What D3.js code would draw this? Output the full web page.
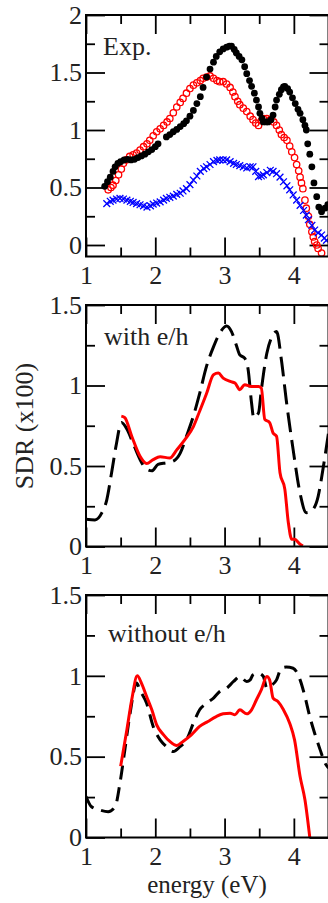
<!DOCTYPE html>
<html>
<head>
<meta charset="utf-8">
<script src="https://cdn.jsdelivr.net/npm/d3@7"></script>
<style>
  html, body { margin: 0; padding: 0; background: #fff; }
  svg { display: block; }
</style>
</head>
<body>
<div class="sdr-chart"></div>
<script>
// x axis ticks (shared by all three panels)
const xMajor = [1, 2, 3, 4];
const xMinor = [1.5, 2.5, 3.5, 4.5];
const yMajorTop = [0, 0.5, 1, 1.5, 2];
const yMinorTop = [0.25, 0.75, 1.25, 1.75];
const yMajor = [0, 0.5, 1, 1.5];
const yMinor = [0.25, 0.75, 1.25];

const panelLabels = ['Exp.', 'with e/h', 'without e/h'];

// Exp. : filled black circles
const expBlackE = [1.27, 1.31, 1.35, 1.39, 1.42, 1.46, 1.50, 1.55, 1.60, 1.65, 1.70, 1.75, 1.80, 1.85, 1.90, 1.95, 2.00, 2.04,
  2.16, 2.21, 2.26, 2.31, 2.36, 2.41, 2.45, 2.50, 2.55, 2.60, 2.65, 2.69, 2.74, 2.79, 2.84, 2.88, 2.93, 2.98, 3.03, 3.07,
  3.10, 3.14, 3.17, 3.21, 3.25, 3.29, 3.32, 3.36, 3.39, 3.43, 3.46, 3.49, 3.51, 3.54, 3.56, 3.60, 3.63, 3.67, 3.70, 3.73,
  3.75, 3.79, 3.82, 3.85, 3.87, 3.91, 3.94, 3.98, 4.02, 4.06, 4.09, 4.13, 4.16, 4.18, 4.20, 4.23, 4.26, 4.29, 4.33, 4.36,
  4.40, 4.45, 4.49];
const expBlackV = [0.51, 0.55, 0.59, 0.64, 0.68, 0.71, 0.725, 0.74, 0.745, 0.74, 0.745, 0.76, 0.775, 0.79, 0.81, 0.83, 0.855, 0.88,
  0.94, 0.96, 0.985, 1.005, 1.03, 1.055, 1.08, 1.12, 1.17, 1.23, 1.29, 1.37, 1.46, 1.53, 1.59, 1.64, 1.68, 1.705, 1.72, 1.73,
  1.73, 1.70, 1.67, 1.64, 1.61, 1.55, 1.49, 1.43, 1.38, 1.32, 1.26, 1.20, 1.145, 1.10, 1.07, 1.07, 1.07, 1.09, 1.13, 1.20,
  1.26, 1.31, 1.35, 1.375, 1.38, 1.36, 1.33, 1.28, 1.23, 1.18, 1.145, 1.09, 1.04, 1.00, 0.88, 0.79, 0.68, 0.54, 0.42, 0.33,
  0.29, 0.32, 0.35];

// Exp. : open red circles
const expRedE = [1.32, 1.36, 1.39, 1.43, 1.47, 1.51, 1.54, 1.58, 1.63, 1.68, 1.73, 1.78, 1.83, 1.88, 1.92, 1.97, 2.02, 2.07,
  2.12, 2.17, 2.21, 2.26, 2.31, 2.36, 2.40, 2.45, 2.50, 2.55, 2.60, 2.65, 2.69, 2.74, 2.79, 2.84, 2.89, 2.93, 2.98, 3.03,
  3.08, 3.12, 3.15, 3.19, 3.22, 3.27, 3.32, 3.37, 3.41, 3.45, 3.49, 3.53, 3.56, 3.61, 3.66, 3.71, 3.75, 3.79, 3.82, 3.86,
  3.90, 3.94, 3.97, 4.01, 4.04, 4.07, 4.09, 4.11, 4.13, 4.16, 4.18, 4.21, 4.23, 4.26, 4.28, 4.30, 4.33, 4.35, 4.40];
const expRedV = [0.48, 0.50, 0.52, 0.56, 0.61, 0.66, 0.71, 0.74, 0.77, 0.785, 0.80, 0.825, 0.855, 0.88, 0.91, 0.95, 0.985, 1.01,
  1.04, 1.07, 1.10, 1.15, 1.20, 1.24, 1.275, 1.32, 1.36, 1.39, 1.41, 1.43, 1.45, 1.46, 1.47, 1.45, 1.43, 1.42, 1.42, 1.40,
  1.37, 1.33, 1.29, 1.25, 1.22, 1.19, 1.16, 1.12, 1.09, 1.06, 1.04, 1.08, 1.10, 1.10, 1.09, 1.07, 1.04, 1.00, 0.96, 0.935,
  0.91, 0.86, 0.81, 0.76, 0.70, 0.645, 0.59, 0.54, 0.49, 0.39, 0.32, 0.25, 0.18, 0.115, 0.07, 0.03, 0.00, -0.03, -0.07];

// Exp. : blue crosses
const expBlueE = [1.30, 1.35, 1.39, 1.44, 1.49, 1.54, 1.59, 1.64, 1.68, 1.73, 1.78, 1.83, 1.88, 1.93, 1.97, 2.02, 2.07, 2.12,
  2.16, 2.21, 2.26, 2.31, 2.36, 2.40, 2.45, 2.50, 2.55, 2.60, 2.65, 2.70, 2.74, 2.79, 2.84, 2.89, 2.93, 2.98, 3.03, 3.08,
  3.13, 3.17, 3.22, 3.27, 3.32, 3.37, 3.41, 3.45, 3.49, 3.53, 3.56, 3.61, 3.66, 3.70, 3.75, 3.80, 3.85, 3.90, 3.94, 3.99,
  4.04, 4.09, 4.14, 4.18, 4.21, 4.26, 4.30, 4.35, 4.40, 4.44, 4.47];
const expBlueV = [0.36, 0.38, 0.39, 0.40, 0.405, 0.40, 0.39, 0.38, 0.37, 0.36, 0.35, 0.34, 0.33, 0.34, 0.355, 0.365, 0.375, 0.39,
  0.405, 0.415, 0.425, 0.44, 0.45, 0.47, 0.49, 0.525, 0.565, 0.60, 0.64, 0.665, 0.68, 0.70, 0.725, 0.735, 0.74, 0.74, 0.74, 0.725,
  0.71, 0.70, 0.69, 0.68, 0.67, 0.68, 0.68, 0.64, 0.595, 0.60, 0.61, 0.63, 0.65, 0.64, 0.62, 0.59, 0.55, 0.515, 0.48, 0.435,
  0.39, 0.345, 0.30, 0.26, 0.22, 0.17, 0.13, 0.105, 0.087, 0.06, 0.04];

// with e/h : dashed black and solid red
const withBlackE = [1.00, 1.13, 1.23, 1.30, 1.37, 1.44, 1.51, 1.59, 1.68, 1.78, 1.875, 1.95, 2.04, 2.16, 2.26, 2.36, 2.45, 2.55,
  2.64, 2.74, 2.84, 2.93, 3.03, 3.10, 3.17, 3.22, 3.29, 3.34, 3.39, 3.42, 3.49, 3.53, 3.61, 3.68, 3.75, 3.82, 3.89, 3.99,
  4.09, 4.18, 4.25, 4.35, 4.42, 4.50];
const withBlackV = [0.17, 0.165, 0.21, 0.29, 0.46, 0.64, 0.77, 0.73, 0.64, 0.54, 0.48, 0.47, 0.51, 0.52, 0.53, 0.58, 0.685, 0.81,
  0.95, 1.12, 1.24, 1.325, 1.37, 1.335, 1.25, 1.19, 1.17, 1.10, 0.89, 0.80, 0.83, 0.97, 1.20, 1.30, 1.335, 1.16, 0.91, 0.60,
  0.33, 0.21, 0.22, 0.31, 0.48, 0.705];
const withRedE = [1.51, 1.56, 1.66, 1.78, 1.875, 1.97, 2.07, 2.21, 2.31, 2.43, 2.55, 2.64, 2.74, 2.84, 2.91, 2.98, 3.08, 3.15,
  3.22, 3.29, 3.39, 3.49, 3.53, 3.58, 3.65, 3.70, 3.75, 3.80, 3.87, 3.92, 3.97, 4.01, 4.09, 4.13];
const withRedV = [0.81, 0.80, 0.685, 0.56, 0.515, 0.54, 0.557, 0.55, 0.60, 0.665, 0.745, 0.84, 0.95, 1.067, 1.077, 1.046, 1.025, 1.015,
  0.974, 1.005, 0.994, 0.994, 0.984, 0.79, 0.77, 0.705, 0.685, 0.458, 0.355, 0.149, 0.045, 0.045, 0.014, 0.004];

// without e/h : dashed black and solid red
const withoutBlackE = [1.00, 1.08, 1.20, 1.32, 1.42, 1.49, 1.56, 1.63, 1.73, 1.78, 1.875, 1.97, 2.07, 2.16, 2.26, 2.36, 2.45, 2.55,
  2.64, 2.74, 2.84, 2.93, 3.03, 3.13, 3.22, 3.32, 3.37, 3.41, 3.49, 3.56, 3.61, 3.65, 3.75, 3.82, 3.89, 3.99, 4.09, 4.16,
  4.23, 4.30, 4.38, 4.45, 4.50];
const withoutBlackV = [0.254, 0.19, 0.17, 0.16, 0.19, 0.336, 0.54, 0.75, 0.955, 0.91, 0.83, 0.687, 0.604, 0.563, 0.532, 0.563, 0.604, 0.707,
  0.79, 0.83, 0.862, 0.903, 0.924, 0.965, 0.996, 0.965, 0.975, 1.006, 1.016, 0.996, 0.924, 0.934, 0.975, 1.047, 1.054, 1.047, 0.975, 0.872,
  0.748, 0.645, 0.542, 0.46, 0.43];
const withoutRedE = [1.50, 1.59, 1.66, 1.74, 1.80, 1.875, 1.95, 2.02, 2.12, 2.21, 2.31, 2.40, 2.52, 2.64, 2.76, 2.88, 2.98, 3.08,
  3.15, 3.22, 3.32, 3.39, 3.46, 3.53, 3.61, 3.65, 3.70, 3.77, 3.85, 3.94, 4.01, 4.09, 4.16, 4.23];
const withoutRedV = [0.44, 0.666, 0.852, 1.0, 0.955, 0.872, 0.79, 0.697, 0.635, 0.594, 0.569, 0.594, 0.635, 0.687, 0.718, 0.748, 0.765, 0.769,
  0.759, 0.79, 0.765, 0.79, 0.852, 0.913, 0.996, 0.975, 0.862, 0.841, 0.79, 0.707, 0.604, 0.377, 0.233, 0.0];

const zip = (xs, ys) => xs.map((e, i) => [e, ys[i]]);

function draw() {
  const width = 328;
  const height = 903;
  const font = '"Liberation Serif", "Times New Roman", serif';
  const ink = '#222';

  const svg = d3.select('.sdr-chart').append('svg')
    .attr('width', width)
    .attr('height', height)
    .style('background-color', 'white');

  const x = d3.scaleLinear().domain([1, 4.5]).range([86, 328.5]);

  const panels = [
    { domain: [-0.1, 2], range: [256.5, 15], major: yMajorTop, minor: yMinorTop, labelY: 55, labelX: 103, dash: '' },
    { domain: [0, 1.5], range: [546.5, 305], major: yMajor, minor: yMinor, labelY: 345, labelX: 104, dash: '20,8' },
    { domain: [0, 1.5], range: [837.5, 595], major: yMajor, minor: yMinor, labelY: 641.5, labelX: 108, dash: '14,8' }
  ];

  const line = y => d3.line()
    .x(d => x(d[0]))
    .y(d => y(d[1]))
    .curve(d3.curveMonotoneX);

  panels.forEach((p, i) => {
    const y = d3.scaleLinear().domain(p.domain).range(p.range);
    const top = p.range[1], bottom = p.range[0];
    const left = x.range()[0], right = x.range()[1];
    const g = svg.append('g').attr('class', 'panel-' + i);

    /*
     * Ticks: all inward, major 19px, minor 9px, on every side
     */
    const tidy = sel => {
      sel.select('.domain').remove();
      sel.selectAll('line').attr('stroke', '#000').attr('stroke-width', 1.8);
      sel.attr('font-family', font).attr('font-size', 26);
      sel.selectAll('text').attr('fill', ink);
    };

    g.append('g').attr('transform', `translate(0,${bottom})`)
      .call(d3.axisBottom(x).tickValues(xMajor).tickFormat(d3.format('d')).tickSizeInner(-19).tickSizeOuter(0).tickPadding(9))
      .call(tidy);
    g.append('g').attr('transform', `translate(0,${bottom})`)
      .call(d3.axisBottom(x).tickValues(xMinor).tickFormat('').tickSizeInner(-9).tickSizeOuter(0))
      .call(tidy);
    g.append('g').attr('transform', `translate(0,${top})`)
      .call(d3.axisTop(x).tickValues(xMajor).tickFormat('').tickSizeInner(-19).tickSizeOuter(0))
      .call(tidy);
    g.append('g').attr('transform', `translate(0,${top})`)
      .call(d3.axisTop(x).tickValues(xMinor).tickFormat('').tickSizeInner(-9).tickSizeOuter(0))
      .call(tidy);
    g.append('g').attr('transform', `translate(${left},0)`)
      .call(d3.axisLeft(y).tickValues(p.major).tickFormat(d3.format('')).tickSizeInner(-19).tickSizeOuter(0).tickPadding(4))
      .call(tidy);
    g.append('g').attr('transform', `translate(${left},0)`)
      .call(d3.axisLeft(y).tickValues(p.minor).tickFormat('').tickSizeInner(-9).tickSizeOuter(0))
      .call(tidy);
    g.append('g').attr('transform', `translate(${right},0)`)
      .call(d3.axisRight(y).tickValues(p.major).tickFormat('').tickSizeInner(-19).tickSizeOuter(0))
      .call(tidy);
    g.append('g').attr('transform', `translate(${right},0)`)
      .call(d3.axisRight(y).tickValues(p.minor).tickFormat('').tickSizeInner(-9).tickSizeOuter(0))
      .call(tidy);

    // clip for the data
    svg.append('clipPath').attr('id', 'clip-' + i)
      .append('rect')
      .attr('x', left).attr('y', top)
      .attr('width', right - left).attr('height', bottom - top);

    const plot = g.append('g').attr('clip-path', `url(#clip-${i})`);

    if (i === 0) {
      plot.selectAll('circle.red')
        .data(zip(expRedE, expRedV))
        .enter()
        .append('circle')
        .attr('class', 'red')
        .attr('cx', d => x(d[0]))
        .attr('cy', d => y(d[1]))
        .attr('r', 3.2)
        .style('fill', 'none')
        .style('stroke', '#ff0000')
        .style('stroke-width', 1.3);

      plot.selectAll('path.cross')
        .data(zip(expBlueE, expBlueV))
        .enter()
        .append('path')
        .attr('class', 'cross')
        .attr('transform', d => `translate(${x(d[0])},${y(d[1])})`)
        .attr('d', 'M-3.4,-3.4L3.4,3.4M-3.4,3.4L3.4,-3.4')
        .style('stroke', '#0000ff')
        .style('stroke-width', 1.3);

      plot.selectAll('circle.black')
        .data(zip(expBlackE, expBlackV))
        .enter()
        .append('circle')
        .attr('class', 'black')
        .attr('cx', d => x(d[0]))
        .attr('cy', d => y(d[1]))
        .attr('r', 3.4)
        .style('fill', '#000');
    } else {
      const blk = i === 1 ? zip(withBlackE, withBlackV) : zip(withoutBlackE, withoutBlackV);
      const red = i === 1 ? zip(withRedE, withRedV) : zip(withoutRedE, withoutRedV);

      plot.append('path')
        .datum(blk)
        .attr('d', line(y))
        .style('fill', 'none')
        .style('stroke', '#000')
        .style('stroke-width', 3)
        .style('stroke-dasharray', p.dash);

      plot.append('path')
        .datum(red)
        .attr('d', line(y))
        .style('fill', 'none')
        .style('stroke', '#ff0000')
        .style('stroke-width', 3);
    }

    // frame on top of everything
    g.append('rect')
      .attr('x', left).attr('y', top)
      .attr('width', right - left).attr('height', bottom - top)
      .style('fill', 'none')
      .style('stroke', '#000')
      .style('stroke-width', 2);

    g.append('text')
      .attr('x', p.labelX)
      .attr('y', p.labelY)
      .attr('font-family', font)
      .attr('font-size', 26)
      .attr('fill', ink)
      .text(panelLabels[i]);
  });

  svg.append('text')
    .attr('transform', 'translate(33,426) rotate(-90)')
    .attr('text-anchor', 'middle')
    .attr('font-family', font)
    .attr('font-size', 26)
    .attr('fill', ink)
    .text('SDR (x100)');

  svg.append('text')
    .attr('x', 207)
    .attr('y', 893)
    .attr('text-anchor', 'middle')
    .attr('font-family', font)
    .attr('font-size', 25)
    .attr('fill', ink)
    .text('energy (eV)');
}

draw();
</script>
</body>
</html>
